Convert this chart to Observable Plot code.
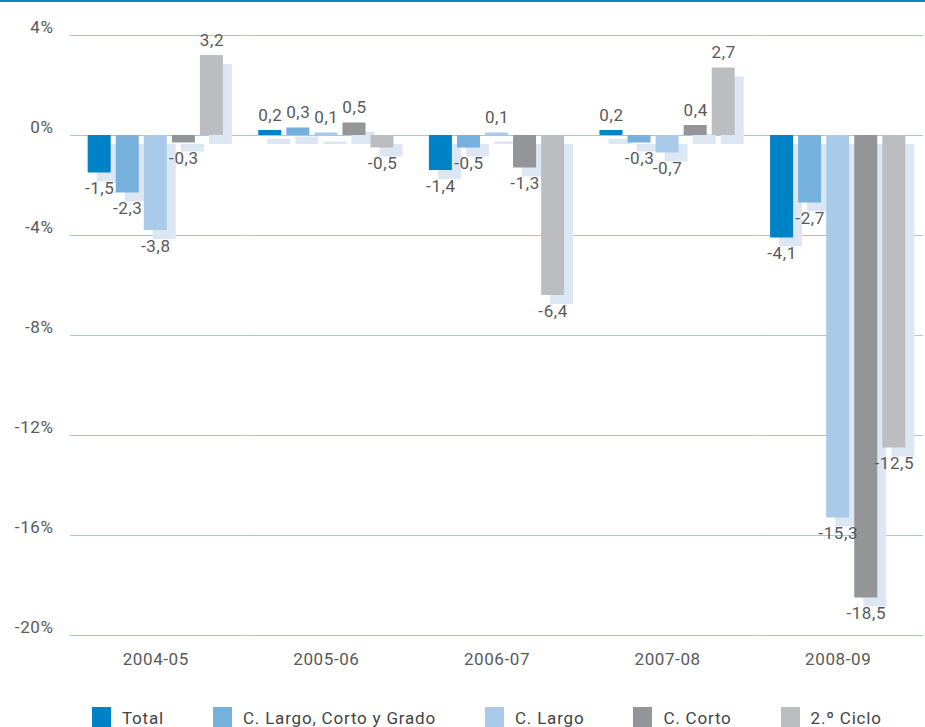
<!DOCTYPE html>
<html><head><meta charset="utf-8">
<script src="https://cdn.jsdelivr.net/npm/d3@7"></script>
<script src="https://cdn.jsdelivr.net/npm/@observablehq/plot@0.6"></script>
<style>
body{margin:0;background:#fff;font-family:Roboto, "DejaVu Sans", sans-serif;}
#wrap{position:relative;width:925px;height:727px;overflow:hidden;background:#fff;}
#topline{position:absolute;left:0;top:0;width:925px;height:2px;background:#0a85c7;z-index:2;}
#chart{position:absolute;left:0;top:0;}
#legend{position:absolute;left:92px;top:707px;display:flex;align-items:flex-start;font-size:17px;color:#444;letter-spacing:0.8px;white-space:nowrap;}
.item{display:flex;align-items:flex-start;margin-right:49px;}
.sw{width:19px;height:20px;margin-right:11px;flex:none;}
.lbl{line-height:17px;margin-top:3px;}
</style></head><body>
<div id="wrap"><div id="topline"></div><div id="chart"></div><div id="legend"></div></div>
<script>
const years = ["2004-05", "2005-06", "2006-07", "2007-08", "2008-09"];
const series = ["Total", "C. Largo, Corto y Grado", "C. Largo", "C. Corto", "2.º Ciclo"];
const colors = ["#0082c6", "#76b0dd", "#a9cbe9", "#939598", "#bcbdc0"];
const total = [-1.5, 0.2, -1.4, 0.2, -4.1];
const largoCortoGrado = [-2.3, 0.3, -0.5, -0.3, -2.7];
const largo = [-3.8, 0.1, 0.1, -0.7, -15.3];
const corto = [-0.3, 0.5, -1.3, 0.4, -18.5];
const segundoCiclo = [3.2, -0.5, -6.4, 2.7, -12.5];
const yTicks = [4, 0, -4, -8, -12, -16, -20];

const seriesValues = [total, largoCortoGrado, largo, corto, segundoCiclo];
const rows = [];
years.forEach((year, i) => {
  series.forEach((s, j) => rows.push({year, series: s, value: seriesValues[j][i]}));
});
const fmt = v => v.toFixed(1).replace(".", ",");

const chart = Plot.plot({
  width: 925,
  height: 690,
  marginLeft: 70,
  marginRight: 2,
  marginTop: 35,
  marginBottom: 55,
  style: {fontFamily: "Roboto, 'DejaVu Sans', sans-serif", fontSize: "17px", color: "#58595b", background: "transparent", overflow: "visible", letterSpacing: "0.6px"},
  fx: {domain: years, padding: 0, round: false, label: null, axis: "bottom", tickSize: 0, tickPadding: 17},
  x: {domain: series, axis: null, round: false, paddingInner: 0.18, paddingOuter: 0.63},
  y: {domain: [-20, 4]},
  color: {domain: series, range: colors},
  marks: [
    Plot.ruleY(yTicks, {stroke: "#a6c6e8", strokeWidth: 1.2}),
    Plot.axisY({ticks: yTicks, tickSize: 0, tickPadding: 17, dy: -8, tickFormat: d => d + "%", label: null}),
    Plot.barY(rows, {fx: "year", x: "series", y: "value", fill: "#dde7f3", dx: 9, dy: 9}),
    Plot.barY(rows, {fx: "year", x: "series", y: "value", fill: "series"}),
    Plot.text(rows.filter(d => d.value >= 0), {fx: "year", x: "series", y: "value", text: d => fmt(d.value), dy: -15, fill: "#58595b"}),
    Plot.text(rows.filter(d => d.value < 0), {fx: "year", x: "series", y: "value", text: d => fmt(d.value), dy: 16, fill: "#58595b"})
  ]
});
document.getElementById("chart").appendChild(chart);

const legend = document.getElementById("legend");
series.forEach((s, j) => {
  const item = document.createElement("div");
  item.className = "item";
  const sw = document.createElement("div");
  sw.className = "sw";
  sw.style.background = colors[j];
  const lbl = document.createElement("div");
  lbl.className = "lbl";
  lbl.textContent = s;
  item.appendChild(sw);
  item.appendChild(lbl);
  legend.appendChild(item);
});
</script>
</body></html>
